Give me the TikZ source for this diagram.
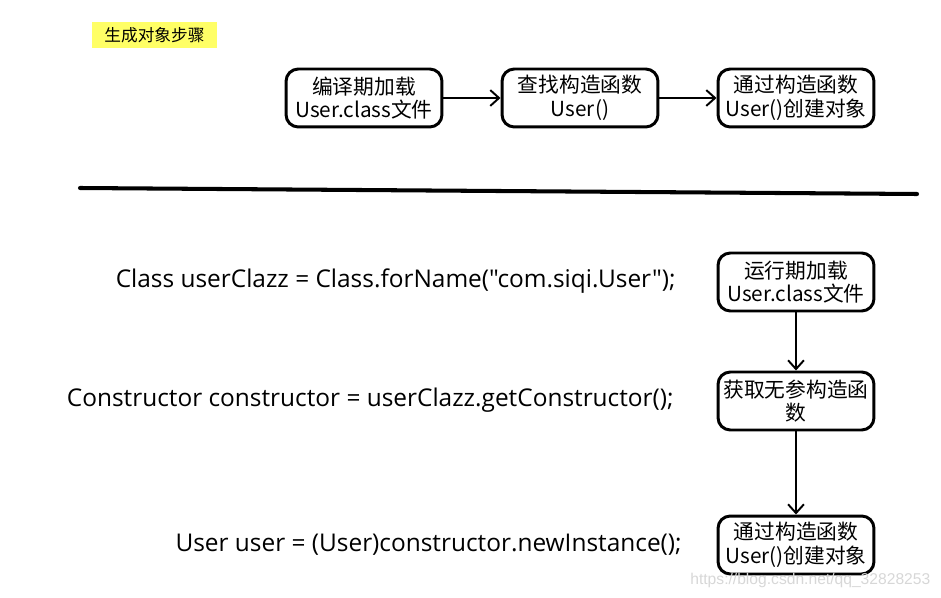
\documentclass[tikz,border=0pt]{standalone}
\usepackage{fontspec}
\setmainfont{Noto Sans CJK SC}
\newfontfamily\codefont{Open Sans}
\newfontfamily\markfont{Liberation Sans}
\usetikzlibrary{positioning,arrows.meta}

\definecolor{notebg}{RGB}{255,255,102}
\definecolor{markgray}{RGB}{215,215,215}

\tikzset{
  stepbox/.style={draw, line width=1.7pt, rounded corners=7pt, align=center,
    minimum width=3.12cm, minimum height=1.16cm, inner sep=1pt,
    font=\fontsize{11.8}{13.4}\selectfont},
  flow/.style={line width=1.1pt, -{Straight Barb[length=5pt,width=9pt]}},
  codeline/.style={anchor=east, inner sep=0pt, font=\codefont\fontsize{13.9}{16}\selectfont},
}

\begin{document}
\begin{tikzpicture}[x=0.02cm, y=-0.02cm]
  \useasboundingbox (0,0) rectangle (941,598);

  % title tag
  \node[fill=notebg, minimum width=2.5cm, minimum height=0.52cm, inner sep=0pt,
        font=\fontsize{9.5}{11}\selectfont] (title) at (154.5,35) {生成对象步骤};

  % compile time
  \node[stepbox] (load) at (364,98) {编译期加载\\User.class文件};
  \node[stepbox] (find) at (580,98) {查找构造函数\\User()};
  \node[stepbox] (make) at (796,98) {通过构造函数\\User()创建对象};
  \draw[flow] (load) -- (find);
  \draw[flow] (find) -- (make);

  % separator
  \coordinate (sepl) at (80,188);
  \coordinate (sepr) at (917,194);
  \draw[line width=2.3pt, line cap=round] (sepl) -- (sepr);

  % run time
  \node[stepbox] (rload) at (796,282) {运行期加载\\User.class文件};
  \node[stepbox] (rget) at (796,401) {获取无参构造函\\数};
  \node[stepbox] (rmake) at (796,545) {通过构造函数\\User()创建对象};
  \draw[flow] (rload) -- (rget);
  \draw[flow] (rget) -- (rmake);

  % code
  \node[codeline] (codea) at (676,281) {Class userClazz = Class.forName("com.siqi.User");};
  \node[codeline] (codeb) at (674,400) {Constructor constructor = userClazz.getConstructor();};
  \node[codeline] (codec) at (682,545) {User user = (User)constructor.newInstance();};

  \node[anchor=west, inner sep=0pt, text=markgray, font=\markfont\fontsize{8.9}{10}\selectfont]
    (mark) at (690,580) {https://blog.csdn.net/qq\_32828253};
\end{tikzpicture}
\end{document}
